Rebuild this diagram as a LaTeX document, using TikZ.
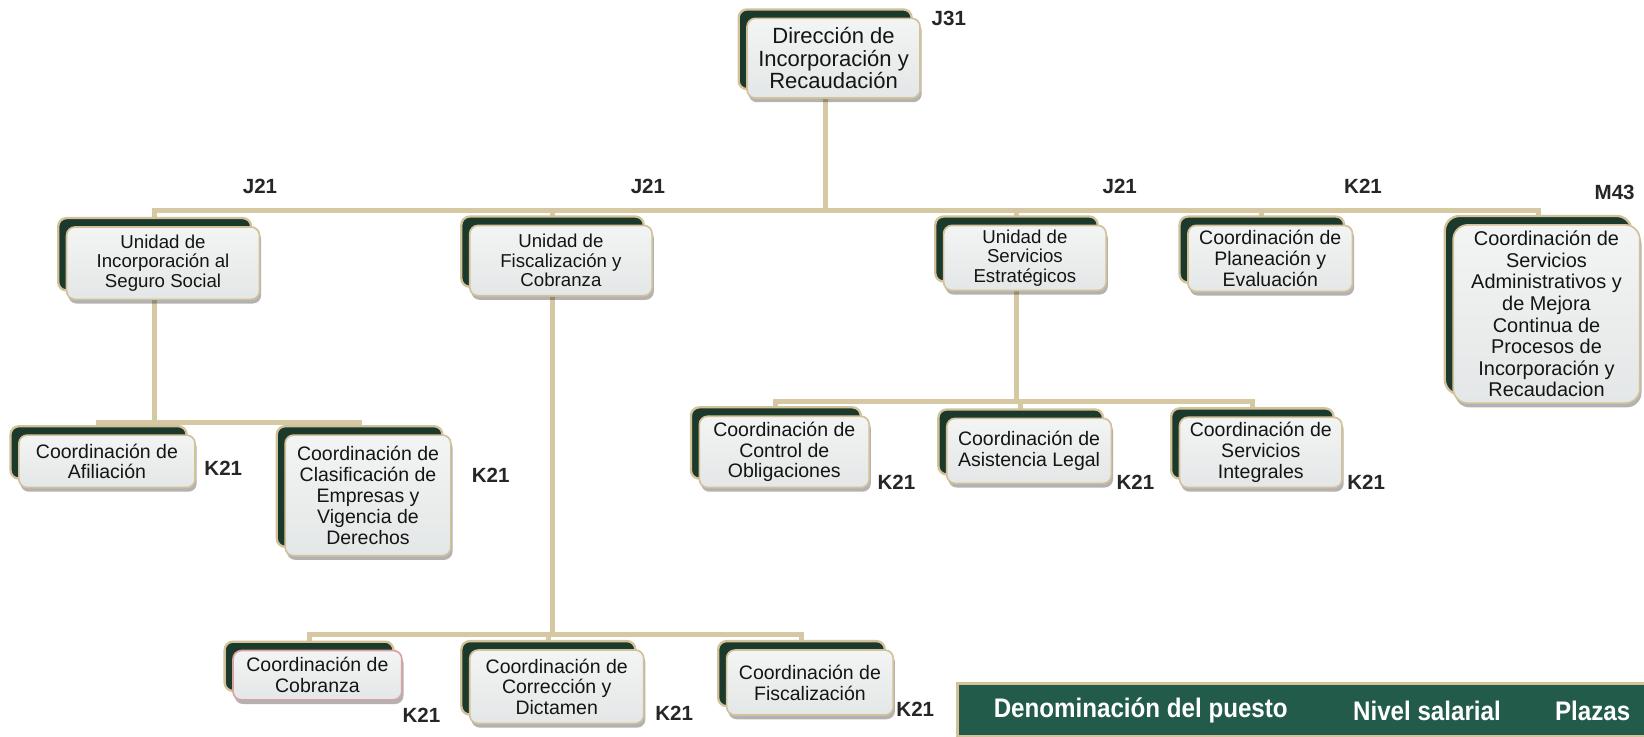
\documentclass[tikz,border=0pt]{standalone}
\usepackage{fontspec}
\setmainfont{Liberation Sans}
\newfontfamily\narrowf[FakeStretch=0.9]{Liberation Sans}
\usetikzlibrary{shadows}
\definecolor{dkgreen}{HTML}{1C3A2C}
\definecolor{tanB}{HTML}{D2C199}
\definecolor{conncol}{HTML}{D6C8A2}
\definecolor{boxfill}{HTML}{ECEEEE}
\definecolor{boxtop}{HTML}{F3F4F4}
\definecolor{boxbot}{HTML}{E4E7E7}
\definecolor{txt}{HTML}{141414}
\definecolor{legendg}{HTML}{225B4A}
\definecolor{pinkB}{HTML}{D9A2A4}
\pgfdeclarelayer{bg}
\pgfdeclarelayer{lines}
\pgfsetlayers{bg,lines,main}
\begin{document}
\begin{tikzpicture}[x=0.5pt,y=-0.5pt,
  orgbox/.style={draw=tanB, line width=0.8pt, top color=boxtop, bottom color=boxbot, rounded corners=4pt,
    align=center, inner sep=0pt, text=txt, font=\fontsize{9.3}{9.9}\selectfont,
    drop shadow={shadow xshift=0.8pt, shadow yshift=-2pt, opacity=0.3, fill=black},
    copy shadow={shadow xshift=-4pt, shadow yshift=4.25pt, fill=dkgreen, draw=tanB, line width=1.1pt, opacity=1}},
  unitbox/.style={orgbox, font=\fontsize{8.9}{9.2}\selectfont},
  conn/.style={draw=conncol, line width=2.4pt},
  lvl/.style={font=\bfseries\fontsize{9.8}{10}\selectfont, text=black!85, inner sep=0pt},
  legendbar/.style={draw=tanB, line width=1.2pt, fill=legendg, inner sep=0pt},
  legtext/.style={font=\narrowf\bfseries\fontsize{12.8}{13}\selectfont, text=white, inner sep=0pt}]
\useasboundingbox (0,0) rectangle (1568,702);
\begin{pgfonlayer}{bg}
\fill[white] (0,0) rectangle (1568,702);
\end{pgfonlayer}

% top
\node[orgbox, font=\fontsize{10.5}{10.8}\selectfont, minimum width=82.5pt, minimum height=38pt] (top) at (795,55.5) {Dirección de\\Incorporación y\\Recaudación};

% second level
\node[unitbox, minimum width=92pt, minimum height=34.5pt] (u1) at (155.5,251) {Unidad de\\Incorporación al\\Seguro Social};
\node[unitbox, minimum width=87pt, minimum height=33.5pt] (u2) at (535,248.5) {Unidad de\\Fiscalización y\\Cobranza};
\node[unitbox, minimum width=77.5pt, minimum height=31pt] (u3) at (977.5,246) {Unidad de\\Servicios\\Estratégicos};
\node[orgbox, minimum width=78.5pt, minimum height=31.5pt] (u4) at (1211.5,246.5) {Coordinación de\\Planeación y\\Evaluación};
\node[orgbox, font=\fontsize{9.5}{10.3}\selectfont, rounded corners=7pt, minimum width=89pt, minimum height=85pt] (u5) at (1475,299.5) {Coordinación de\\Servicios\\Administrativos y\\de Mejora\\Continua de\\Procesos de\\Incorporación y\\Recaudacion};

% third level
\node[orgbox, minimum width=84pt, minimum height=25pt] (c1) at (102,440) {Coordinación de\\Afiliación};
\node[orgbox, minimum width=79pt, minimum height=57.5pt] (c2) at (351,472.5) {Coordinación de\\Clasificación de\\Empresas y\\Vigencia de\\Derechos};
\node[orgbox, minimum width=81pt, minimum height=34pt] (c3) at (748,431) {Coordinación de\\Control de\\Obligaciones};
\node[orgbox, minimum width=78.5pt, minimum height=31pt] (c4) at (981.5,430) {Coordinación de\\Asistencia Legal};
\node[orgbox, minimum width=77.5pt, minimum height=33.5pt] (c5) at (1202.5,431.5) {Coordinación de\\Servicios\\Integrales};
\node[orgbox, draw=pinkB, minimum width=80.5pt, minimum height=23.5pt] (c6) at (302.75,644) {Coordinación de\\Cobranza};
\node[orgbox, minimum width=83pt, minimum height=35pt] (c7) at (531,655) {Coordinación de\\Corrección y\\Dictamen};
\node[orgbox, minimum width=79.5pt, minimum height=31pt] (c8) at (772.5,651) {Coordinación de\\Fiscalización};

% bus coordinates
\coordinate (busM) at (788,201);
\coordinate (busA) at (147,403);
\coordinate (busB) at (527,605);
\coordinate (busC) at (969,382.5);

\begin{pgfonlayer}{lines}
\draw[conn] ([xshift=-4pt]top.south) -- ([xshift=-4pt]top.south |- busM);
\draw[conn] ([xshift=-4pt]u1.north) -- ([xshift=-4pt]u1.north |- busM) -- ([xshift=-4pt]u5.north |- busM) -- ([xshift=-4pt]u5.north);
\foreach \n in {u2,u3,u4} \draw[conn] ([xshift=-4pt]\n.north) -- ([xshift=-4pt]\n.north |- busM);
% under u1
\draw[conn] ([xshift=-4pt]u1.south) -- ([xshift=-4pt]u1.south |- busA);
\draw[conn] ([xshift=-4pt]c1.north) -- ([xshift=-4pt]c1.north |- busA) -- ([xshift=-4pt]c2.north |- busA) -- ([xshift=-4pt]c2.north);
% under u2
\draw[conn] ([xshift=-4pt]u2.south) -- ([xshift=-4pt]u2.south |- busB);
\draw[conn] ([xshift=-4pt]c6.north) -- ([xshift=-4pt]c6.north |- busB) -- ([xshift=-4pt]c8.north |- busB) -- ([xshift=-4pt]c8.north);
\draw[conn] ([xshift=-4pt]c7.north) -- ([xshift=-4pt]c7.north |- busB);
% under u3
\draw[conn] ([xshift=-4pt]u3.south) -- ([xshift=-4pt]u3.south |- busC);
\draw[conn] ([xshift=-4pt]c3.north) -- ([xshift=-4pt]c3.north |- busC) -- ([xshift=-4pt]c5.north |- busC) -- ([xshift=-4pt]c5.north);
\draw[conn] ([xshift=-4pt]c4.north) -- ([xshift=-4pt]c4.north |- busC);
\end{pgfonlayer}

% level labels
\node[lvl] (l0) at (905,18) {J31};
\node[lvl] (l1) at (248,178) {J21};
\node[lvl] (l2) at (618,178) {J21};
\node[lvl] (l3) at (1068,178) {J21};
\node[lvl] (l4) at (1300,178) {K21};
\node[lvl] (l5) at (1540,184) {M43};
\node[lvl] (k1) at (213,447) {K21};
\node[lvl] (k2) at (468,453) {K21};
\node[lvl] (k3) at (855,460) {K21};
\node[lvl] (k4) at (1083,460) {K21};
\node[lvl] (k5) at (1303,460) {K21};
\node[lvl] (k6) at (402,682) {K21};
\node[lvl] (k7) at (643,680) {K21};
\node[lvl] (k8) at (873,677) {K21};

% legend
\node[legendbar, minimum width=330pt, minimum height=25pt] (legend) at (1243,677) {};
\node[legtext] (lg1) at (1088,678) {Denominación del puesto};
\node[legtext] (lg2) at (1361,678) {Nivel salarial};
\node[legtext] (lg3) at (1519,678) {Plazas};
\end{tikzpicture}
\end{document}
